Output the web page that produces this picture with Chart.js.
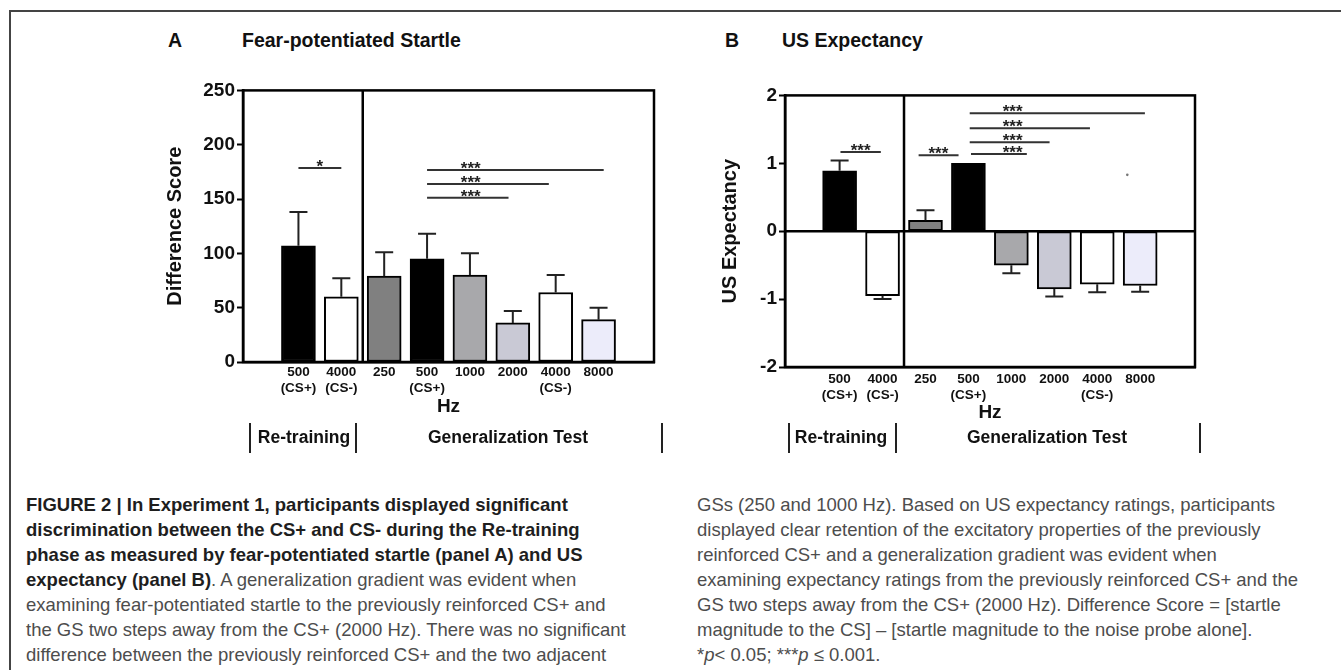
<!DOCTYPE html>
<html><head><meta charset="utf-8">
<script src="https://cdn.jsdelivr.net/npm/chart.js@4/dist/chart.umd.min.js"></script>
<style>
html,body{margin:0;padding:0;background:#fff;}
body{width:1341px;height:670px;position:relative;overflow:hidden;font-family:"Liberation Sans",Arial,Helvetica,sans-serif;}
.abs{position:absolute;white-space:nowrap;}
.hd{font-weight:bold;font-size:19.5px;line-height:24px;color:#111;}
.brk{position:absolute;width:2px;background:#222;top:423px;height:30px;}
.ph{position:absolute;white-space:nowrap;font-weight:bold;font-size:17.5px;line-height:22px;color:#111;top:426px;width:240px;text-align:center;}
.cap{position:absolute;white-space:nowrap;font-size:18.5px;line-height:25px;color:#4d4d4d;}
.cap b{color:#1e1e1e;}
.box{position:absolute;}
</style></head><body>
<div style="position:absolute;left:9px;top:10px;width:1332px;height:1.5px;background:#444"></div>
<div style="position:absolute;left:9px;top:10px;width:1.5px;height:660px;background:#444"></div>

<div class="abs hd" style="left:168px;top:28px">A</div>
<div class="abs hd" style="left:242px;top:28px">Fear-potentiated Startle</div>
<div class="abs hd" style="left:725px;top:28px">B</div>
<div class="abs hd" style="left:782px;top:28px">US Expectancy</div>

<div class="box" style="left:150px;top:77px;width:520px;height:348px"><canvas id="cA"></canvas></div>
<div class="box" style="left:692px;top:82px;width:519px;height:348px"><canvas id="cB"></canvas></div>

<div class="brk" style="left:249px"></div>
<div class="brk" style="left:355px"></div>
<div class="brk" style="left:661px"></div>
<div class="ph" style="left:184px">Re-training</div>
<div class="ph" style="left:388px">Generalization Test</div>

<div class="brk" style="left:788px"></div>
<div class="brk" style="left:895px"></div>
<div class="brk" style="left:1199px"></div>
<div class="ph" style="left:721px">Re-training</div>
<div class="ph" style="left:927px">Generalization Test</div>

<div class="cap" style="left:26px;top:492px"><b>FIGURE 2 | In Experiment 1, participants displayed significant</b></div>
<div class="cap" style="left:26px;top:517px"><b>discrimination between the CS+ and CS- during the Re-training</b></div>
<div class="cap" style="left:26px;top:542px"><b>phase as measured by fear-potentiated startle (panel A) and US</b></div>
<div class="cap" style="left:26px;top:567px"><b>expectancy (panel B)</b>. A generalization gradient was evident when</div>
<div class="cap" style="left:26px;top:592px">examining fear-potentiated startle to the previously reinforced CS+ and</div>
<div class="cap" style="left:26px;top:617px">the GS two steps away from the CS+ (2000 Hz). There was no significant</div>
<div class="cap" style="left:26px;top:642px">difference between the previously reinforced CS+ and the two adjacent</div>

<div class="cap" style="left:697px;top:492px">GSs (250 and 1000 Hz). Based on US expectancy ratings, participants</div>
<div class="cap" style="left:697px;top:517px">displayed clear retention of the excitatory properties of the previously</div>
<div class="cap" style="left:697px;top:542px">reinforced CS+ and a generalization gradient was evident when</div>
<div class="cap" style="left:697px;top:567px">examining expectancy ratings from the previously reinforced CS+ and the</div>
<div class="cap" style="left:697px;top:592px">GS two steps away from the CS+ (2000 Hz). Difference Score = [startle</div>
<div class="cap" style="left:697px;top:617px">magnitude to the CS] – [startle magnitude to the noise probe alone].</div>
<div class="cap" style="left:697px;top:642px">*<i>p</i>&lt; 0.05; ***<i>p</i> ≤ 0.001.</div>

<script>
// ---- data ----
const categories = [['500','(CS+)'],['4000','(CS-)'],['250'],['500','(CS+)'],['1000'],['2000'],['4000','(CS-)'],['8000']];
const startleMeans = [107, 60, 79, 95, 80, 36, 64, 39];
const startleSEM   = [31, 17, 22, 23, 20, 11, 16, 11];
const expectancyMeans = [0.89, -0.95, 0.16, 1.0, -0.50, -0.85, -0.78, -0.80];
const expectancySEM   = [0.15, 0.05, 0.15, 0.0, 0.12, 0.11, 0.12, 0.09];
const barColors = ['#000000','#ffffff','#808080','#000000','#a8a8ab','#c9c9d5','#ffffff','#ececfa'];
const startleTicks = [0, 50, 100, 150, 200, 250];
const expectancyTicks = [-2, -1, 0, 1, 2];
const phaseDivider = 1.5;

// significance brackets (from index, to index, height, label, star position)
const sigStartleFrom  = [0, 3, 3, 3];
const sigStartleTo    = [1, 7.12, 5.84, 4.9];
const sigStartleY     = [178.5, 176.7, 163.9, 151.1];
const sigStartleLabel = ['*', '***', '***', '***'];
const sigStartleStarX = [0.5, 4.02, 4.02, 4.02];

const sigExpFrom  = [0.02, 1.84, 3.03, 3.03, 3.03, 3.06];
const sigExpTo    = [0.96, 2.77, 7.11, 5.83, 4.89, 4.36];
const sigExpY     = [1.165, 1.12, 1.736, 1.516, 1.311, 1.136];
const sigExpLabel = ['***', '***', '***', '***', '***', '***'];
const sigExpStarX = [0.49, 2.30, 4.03, 4.03, 4.03, 4.03];

const strayDotB = [{x: 6.70, y: 0.83}];

Chart.defaults.font.family = '"Liberation Sans", Arial, Helvetica, sans-serif';
Chart.defaults.color = '#111';

const panelPlugin = {
  id: 'panel',
  afterDatasetsDraw(chart, args, o) {
    const {ctx, chartArea: ca, scales: {x, y}} = chart;
    ctx.save();
    // error bars (one-sided, away from zero)
    ctx.strokeStyle = '#222';
    ctx.lineWidth = 2;
    o.means.forEach((v, i) => {
      const e = o.sem[i];
      if (!e) return;
      const px = x.getPixelForValue(i);
      const y0 = y.getPixelForValue(v);
      const y1 = y.getPixelForValue(v + (v >= 0 ? e : -e));
      ctx.beginPath();
      ctx.moveTo(px, y0); ctx.lineTo(px, y1);
      ctx.moveTo(px - 9, y1); ctx.lineTo(px + 9, y1);
      ctx.stroke();
    });
    // frame, phase divider, zero line
    ctx.strokeStyle = '#000';
    ctx.lineWidth = 2.5;
    ctx.strokeRect(ca.left, ca.top, ca.right - ca.left, ca.bottom - ca.top);
    const dx = x.getPixelForValue(o.divider);
    ctx.beginPath(); ctx.moveTo(dx, ca.top); ctx.lineTo(dx, ca.bottom); ctx.stroke();
    if (o.zeroLine) {
      const zy = y.getPixelForValue(0);
      ctx.beginPath(); ctx.moveTo(ca.left, zy); ctx.lineTo(ca.right, zy); ctx.stroke();
    }
    // significance lines and stars
    ctx.strokeStyle = '#333';
    ctx.lineWidth = 2;
    ctx.fillStyle = '#222';
    ctx.font = 'bold 17px "Liberation Sans", Arial, sans-serif';
    ctx.textAlign = 'center';
    ctx.textBaseline = 'alphabetic';
    o.sigFrom.forEach((f, k) => {
      const x0 = x.getPixelForValue(f), x1 = x.getPixelForValue(o.sigTo[k]);
      const ly = y.getPixelForValue(o.sigY[k]);
      ctx.beginPath(); ctx.moveTo(x0, ly); ctx.lineTo(x1, ly); ctx.stroke();
      ctx.fillText(o.sigLabel[k], x.getPixelForValue(o.sigStarX[k]), ly + 4);
    });
    ctx.restore();
  }
};

function makeChart(id, means, sem, yTicks, yMin, yMax, yTitle, xMin, xMax, titleLeftPad, hzPad, tickPad, sig, zeroLine, extra) {
  const datasets = [{
    type: 'bar',
    data: means.map((v, i) => ({x: i, y: v})),
    backgroundColor: barColors,
    borderColor: '#000',
    borderWidth: 2,
    borderSkipped: false,
    barThickness: 34
  }];
  if (extra) datasets.push({
    type: 'scatter', data: extra, pointRadius: 1.3, pointBackgroundColor: '#777', pointBorderWidth: 0
  });
  return new Chart(document.getElementById(id), {
    type: 'bar',
    data: {datasets},
    plugins: [panelPlugin],
    options: {
      responsive: true, maintainAspectRatio: false, animation: false, events: [],
      layout: {padding: {top: 12, right: 16, left: 0, bottom: 0}},
      plugins: {
        legend: {display: false}, tooltip: {enabled: false},
        panel: Object.assign({means, sem, divider: phaseDivider, zeroLine}, sig)
      },
      scales: {
        x: {
          type: 'linear', min: xMin, max: xMax,
          afterBuildTicks: s => { s.ticks = categories.map((c, i) => ({value: i})); },
          afterFit: s => { s.height = 63; },
          grid: {display: false, drawTicks: false, tickLength: 0},
          border: {color: '#000', width: 2.5},
          ticks: {autoSkip: false, maxRotation: 0, color: '#111', padding: tickPad,
                  font: {size: 13.5, weight: 'bold', lineHeight: 1.2},
                  callback: (v, i) => categories[i]},
          title: {display: true, text: 'Hz', color: '#111', font: {size: 19, weight: 'bold', lineHeight: 1.2},
                  padding: {top: 0, bottom: hzPad}}
        },
        y: {
          min: yMin, max: yMax,
          afterBuildTicks: s => { s.ticks = yTicks.map(v => ({value: v})); },
          afterFit: s => { s.width = 93; },
          grid: {drawOnChartArea: false, drawTicks: true, tickLength: 6, tickColor: '#000', tickWidth: 2},
          border: {color: '#000', width: 2.5},
          ticks: {color: '#111', padding: 2, font: {size: 19, weight: 'bold'}},
          title: {display: true, text: yTitle, color: '#111', font: {size: 20, weight: 'bold', lineHeight: 1.2},
                  padding: {top: titleLeftPad, bottom: 0}}
        }
      }
    }
  });
}

makeChart('cA', startleMeans, startleSEM, startleTicks, 0, 250, 'Difference Score', -0.694, 7.694, 13, 6.6, 2,
  {sigFrom: sigStartleFrom, sigTo: sigStartleTo, sigY: sigStartleY, sigLabel: sigStartleLabel, sigStarX: sigStartleStarX},
  false, null);
makeChart('cB', expectancyMeans, expectancySEM, expectancyTicks, -2, 2, 'US Expectancy', -0.675, 7.68, 26, 5.6, 4,
  {sigFrom: sigExpFrom, sigTo: sigExpTo, sigY: sigExpY, sigLabel: sigExpLabel, sigStarX: sigExpStarX},
  true, strayDotB);
</script>
</body></html>
